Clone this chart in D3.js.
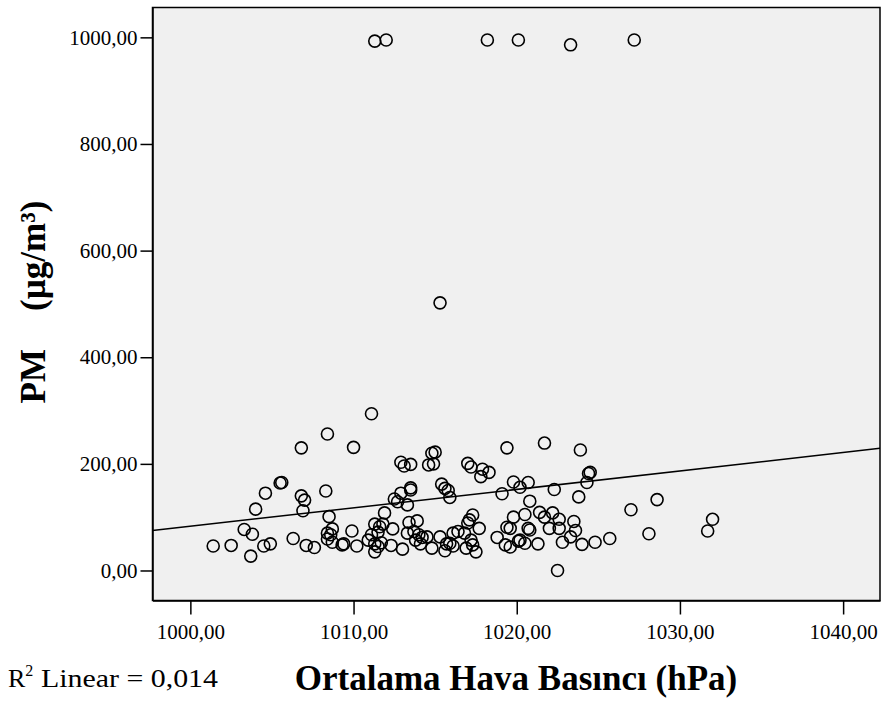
<!DOCTYPE html>
<meta charset="utf-8">
<style>
body { margin: 0; background: #fff; }
text { font-family: "Liberation Serif", "Times New Roman", serif; fill: #000; }
.tick text { font-size: 21px; }
.axis path, .axis line { stroke: #000; stroke-width: 1.5px; }
.dot { fill: none; stroke: #000; stroke-width: 1.6px; }
.fit { fill: none; stroke: #000; stroke-width: 1.5px; }
</style>
<body>
<script src="https://d3js.org/d3.v7.min.js"></script>
<script>

// mean air pressure (hPa) and PM (ug/m3)
var pressure = [
  1011.3, 1012.0, 1018.2, 1020.1, 1023.3, 1027.2,
  1015.3, 1011.1,
  1008.4, 1006.8, 1010.0, 1005.5, 1005.6, 1004.6, 1008.3, 1006.8, 1007.0, 1004.0,
  1006.9, 1008.5, 1003.3, 1003.8, 1008.7, 1009.9, 1008.4, 1008.6, 1008.4, 1008.7,
  1001.4, 1002.5, 1003.7, 1004.5, 1004.9, 1006.3, 1007.1, 1007.6, 1009.3, 1009.4, 1010.2,
  1019.4, 1012.9, 1013.1, 1013.5, 1014.8, 1015.0, 1014.6, 1014.9, 1017.0, 1017.2,
  1017.9, 1017.8, 1018.3, 1013.5, 1013.5, 1012.9, 1012.5, 1012.7, 1013.3, 1015.4,
  1015.6, 1015.8, 1015.9, 1019.1, 1011.9, 1011.3, 1011.6, 1011.8, 1012.4, 1011.5,
  1011.1, 1013.4, 1013.9, 1013.3, 1013.7, 1014.0, 1013.8, 1014.2, 1014.5, 1014.1,
  1010.9, 1011.3, 1011.7, 1011.3, 1011.5, 1012.3, 1013.0, 1014.8, 1015.3, 1015.7,
  1015.6, 1016.1, 1016.4, 1015.9, 1016.1, 1017.0, 1017.3, 1017.1, 1017.7, 1016.8,
  1017.2, 1017.5, 1016.9, 1017.3, 1019.4, 1018.8, 1019.3,
  1021.7, 1023.9, 1024.4, 1024.5, 1024.3, 1019.8, 1020.2, 1020.7, 1022.3, 1023.8,
  1020.8, 1027.0, 1028.6, 1019.8, 1020.5, 1021.4, 1021.7, 1022.2, 1022.6, 1022.0,
  1022.6, 1023.5, 1023.6, 1023.3, 1022.8, 1020.7, 1020.8, 1019.6, 1020.2, 1020.1,
  1020.5, 1021.3, 1019.6, 1024.0, 1024.8, 1025.7, 1028.1, 1022.5,
  1032.0, 1031.7
];
var pm = [
  993, 995, 995, 995, 986, 995,
  502, 294,
  256, 230, 231, 164, 165, 145, 149, 140, 132, 115,
  112, 101, 77, 68, 78, 74, 70, 67, 59, 53,
  46, 47, 27, 46, 50, 60, 47, 43, 48, 50, 46,
  230, 203, 196, 199, 220, 222, 198, 200, 201, 194,
  190, 176, 184, 155, 151, 145, 134, 129, 123, 162,
  154, 150, 137, 144, 108, 87, 82, 87, 78, 72,
  67, 90, 93, 70, 73, 67, 57, 62, 63, 50,
  57, 50, 52, 35, 45, 47, 40, 42, 63, 50,
  37, 70, 73, 51, 46, 89, 104, 95, 79, 70,
  57, 35, 42, 48, 81, 62, 48,
  239, 226, 182, 184, 165, 166, 156, 165, 152, 138,
  130, 114, 133, 100, 105, 109, 100, 108, 96, 79,
  79, 92, 75, 63, 53, 79, 76, 79, 57, 55,
  51, 50, 44, 49, 53, 60, 69, 0,
  96, 74
];

// linear fit line (R2 = 0,014)
var fitIntercept = -3378.1,
    fitSlope = 3.461;

var xTicks = [1000, 1010, 1020, 1030, 1040];
var yTicks = [0, 200, 400, 600, 800, 1000];

var W = 885, H = 702;
var plot = {left: 152.5, top: 7.5, right: 880, bottom: 600.5};

var x = d3.scaleLinear().domain([997.68, 1042.26]).range([plot.left, plot.right]);
var y = d3.scaleLinear().domain([-56.3, 1056]).range([plot.bottom, plot.top]);

var fmt = function(d) { return d3.format(".2f")(d).replace(".", ","); };

var svg = d3.select("body").append("svg")
    .attr("width", W)
    .attr("height", H);

svg.append("rect")
    .attr("width", W).attr("height", H)
    .attr("fill", "#fff");

// plot background and frame
svg.append("rect")
    .attr("x", plot.left).attr("y", plot.top)
    .attr("width", plot.right - plot.left)
    .attr("height", plot.bottom - plot.top)
    .attr("fill", "#f0f0f0")
    .attr("stroke", "#000")
    .attr("stroke-width", 1.5);

// fit line, clipped to the plot
svg.append("clipPath").attr("id", "clip")
  .append("rect")
    .attr("x", plot.left).attr("y", plot.top)
    .attr("width", plot.right - plot.left)
    .attr("height", plot.bottom - plot.top);

var xs = x.domain();
svg.append("path")
    .datum(xs.map(function(v) { return [v, fitIntercept + fitSlope * v]; }))
    .attr("class", "fit")
    .attr("clip-path", "url(#clip)")
    .attr("d", d3.line()
        .x(function(d) { return x(d[0]); })
        .y(function(d) { return y(d[1]); }));

// points
svg.append("g")
  .selectAll("circle")
  .data(pressure.map(function(p, i) { return {p: p, v: pm[i]}; }))
  .join("circle")
    .attr("class", "dot")
    .attr("cx", function(d) { return x(d.p); })
    .attr("cy", function(d) { return y(d.v); })
    .attr("r", 6);

// axes
svg.append("g")
    .attr("class", "axis")
    .attr("transform", "translate(" + plot.left + ",0)")
    .call(d3.axisLeft(y).tickValues(yTicks).tickFormat(fmt).tickSize(12).tickPadding(3).tickSizeOuter(0))
    .call(function(g) { g.select(".domain").attr("stroke-width", 2); });

svg.append("g")
    .attr("class", "axis")
    .attr("transform", "translate(0," + plot.bottom + ")")
    .call(d3.axisBottom(x).tickValues(xTicks).tickFormat(fmt).tickSize(14).tickPadding(10).tickSizeOuter(0))
    .call(function(g) { g.select(".domain").attr("stroke-width", 2); });

svg.selectAll(".tick text").attr("font-family", null).style("font-family", '"Liberation Serif", serif');

// x title
svg.append("text")
    .attr("x", 516)
    .attr("y", 690)
    .attr("text-anchor", "middle")
    .style("font-size", "35px")
    .style("font-weight", "bold")
    .text("Ortalama Hava Basıncı (hPa)");

// y title
var yt = svg.append("text")
    .attr("transform", "translate(45,302) rotate(-90)")
    .attr("text-anchor", "middle")
    .style("font-size", "35px")
    .style("font-weight", "bold")
    .attr("xml:space", "preserve");
yt.append("tspan").text("PM");
yt.append("tspan").attr("dx", 38).text("(µg/m³)");

// R squared note
var r2 = svg.append("text")
    .attr("y", 687)
    .style("font-size", "26px");
r2.append("tspan").attr("x", 8).text("R");
r2.append("tspan").attr("dy", -11).style("font-size", "16px").text("2");
r2.append("tspan").attr("x", 41).attr("dy", 11)
    .attr("textLength", 177).attr("lengthAdjust", "spacingAndGlyphs")
    .text("Linear = 0,014");

</script>
